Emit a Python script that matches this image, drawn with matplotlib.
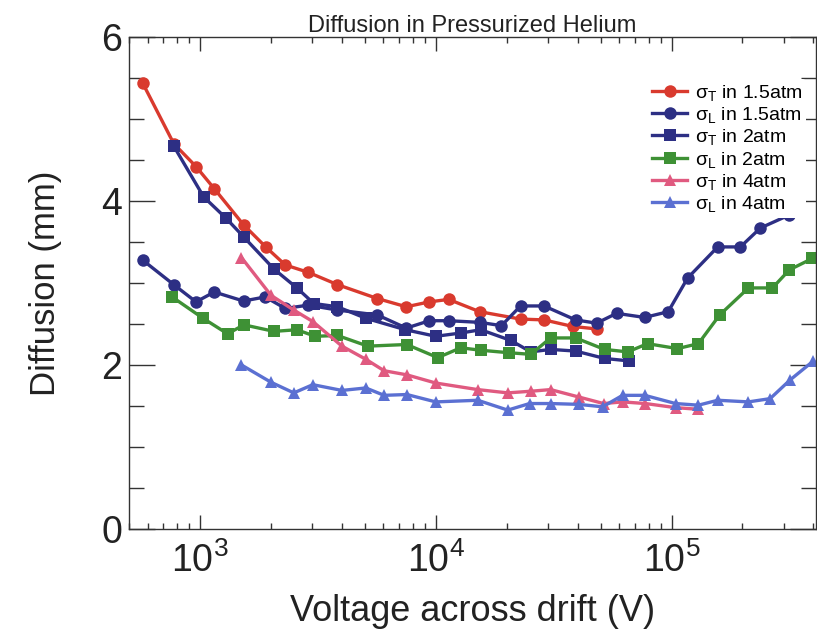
import math
import matplotlib
matplotlib.use("Agg")
import matplotlib.pyplot as plt
from matplotlib.ticker import LogLocator, FuncFormatter, MultipleLocator, NullFormatter

# sigma_T at 1.5 atm
v_t15 = [571, 774, 962, 1150, 1530, 1900, 2300, 2880, 3830, 5660, 7500, 9400,
         11350, 15350, 22900, 28800, 38100, 48100]
d_t15 = [5.44, 4.70, 4.42, 4.15, 3.71, 3.44, 3.22, 3.13, 2.98, 2.81, 2.71, 2.77,
         2.80, 2.65, 2.56, 2.55, 2.47, 2.44]

# sigma_L at 1.5 atm
v_l15 = [571, 774, 962, 1150, 1530, 1890, 2300, 2880, 3830, 5660, 7500, 9400,
         11350, 15350, 19000, 22900, 28800, 39200, 48100, 58500, 76900, 96800,
         117000, 157000, 196000, 238000, 316000]
d_l15 = [3.28, 2.98, 2.77, 2.89, 2.78, 2.83, 2.69, 2.73, 2.67, 2.61, 2.45, 2.54,
         2.54, 2.52, 2.48, 2.72, 2.72, 2.55, 2.51, 2.63, 2.58, 2.65,
         3.06, 3.44, 3.44, 3.67, 3.83]

# sigma_T at 2 atm
v_t2 = [774, 1037, 1290, 1535, 2060, 2576, 3040, 3830, 5050, 7440, 10000, 12770,
        15520, 20800, 25300, 30700, 39200, 52000, 65900]
d_t2 = [4.67, 4.05, 3.79, 3.56, 3.17, 2.94, 2.75, 2.71, 2.57, 2.43, 2.35, 2.39,
        2.43, 2.30, 2.16, 2.19, 2.17, 2.08, 2.05]

# sigma_L at 2 atm
v_l2 = [762, 1030, 1310, 1535, 2060, 2576, 3080, 3830, 5150, 7530, 10200, 12770,
        15520, 20370, 25300, 30700, 39200, 52000, 65200, 79100, 106000, 130000,
        160000, 212000, 268000, 316000, 396000]
d_l2 = [2.83, 2.57, 2.38, 2.49, 2.41, 2.43, 2.35, 2.36, 2.23, 2.25, 2.09, 2.21,
        2.18, 2.15, 2.13, 2.33, 2.33, 2.19, 2.16, 2.26, 2.20, 2.26,
        2.61, 2.94, 2.94, 3.16, 3.30]

# sigma_T at 4 atm
v_t4 = [1500, 2000, 2500, 3010, 4000, 5050, 6040, 7540, 10000, 15070, 20200,
        25300, 30700, 40400, 51500, 62000, 77500, 104000, 130000]
d_t4 = [3.31, 2.85, 2.67, 2.53, 2.23, 2.07, 1.93, 1.88, 1.78, 1.70, 1.66,
        1.68, 1.70, 1.61, 1.53, 1.55, 1.53, 1.48, 1.46]

# sigma_L at 4 atm
v_l4 = [1500, 2000, 2500, 3010, 4000, 5050, 6040, 7540, 10000, 15070, 20200,
        25000, 30700, 40400, 51000, 62000, 77000, 104000, 130000, 157000,
        212000, 262000, 319000, 400000]
d_l4 = [2.00, 1.79, 1.66, 1.76, 1.69, 1.72, 1.63, 1.64, 1.55, 1.57, 1.45,
        1.53, 1.53, 1.52, 1.49, 1.63, 1.63, 1.53, 1.51, 1.57,
        1.55, 1.59, 1.82, 2.05]

plt.rcParams["font.family"] = ["Liberation Sans", "DejaVu Sans"]

fig = plt.figure(figsize=(8.17, 6.32), dpi=100)
ax = fig.add_axes([129 / 817, 103 / 632, 687 / 817, 492 / 632])

series = [
    (v_t15, d_t15, "#D93A2E", "o", r"$\mathregular{\sigma_T}$ in 1.5atm"),
    (v_l15, d_l15, "#2D2F84", "o", r"$\mathregular{\sigma_L}$ in 1.5atm"),
    (v_t2, d_t2, "#2D2F84", "s", r"$\mathregular{\sigma_T}$ in 2atm"),
    (v_l2, d_l2, "#3E9135", "s", r"$\mathregular{\sigma_L}$ in 2atm"),
    (v_t4, d_t4, "#E05A80", "^", r"$\mathregular{\sigma_T}$ in 4atm"),
    (v_l4, d_l4, "#5B70D2", "^", r"$\mathregular{\sigma_L}$ in 4atm"),
]

for v, d, c, m, lab in series:
    ax.plot(v, d, color=c, marker=m, markersize=9, linewidth=2.4,
            markeredgewidth=0, label=lab)

ax.set_xscale("log")
ax.set_xlim(500, 4.1e5)
ax.set_ylim(0, 6)

ax.xaxis.set_major_locator(LogLocator(base=10))
ax.xaxis.set_minor_locator(LogLocator(base=10, subs=range(2, 10)))
ax.xaxis.set_major_formatter(FuncFormatter(lambda x, p: r"$\mathregular{10^{%d}}$" % round(math.log10(x))))
ax.xaxis.set_minor_formatter(NullFormatter())
ax.yaxis.set_major_locator(MultipleLocator(2))
ax.yaxis.set_minor_locator(MultipleLocator(0.5))

for s in ax.spines.values():
    s.set_linewidth(1.0)
    s.set_color("#333333")

ax.tick_params(axis="both", which="both", direction="in", top=True, right=True,
               color="#333333", width=1.0, labelcolor="#222222", labelsize=27)
ax.tick_params(axis="x", which="major", length=10, pad=10)
ax.tick_params(axis="x", which="minor", length=4.5)
ax.tick_params(axis="y", which="major", length=19, pad=5)
ax.tick_params(axis="y", which="minor", length=11)

ax.set_title("Diffusion in Pressurized Helium", fontsize=17, color="#222222", pad=1)
ax.set_xlabel("Voltage across drift (V)", fontsize=26, color="#222222", labelpad=10)
ax.set_ylabel("Diffusion (mm)", fontsize=25, color="#222222", labelpad=28)

leg = ax.legend(loc="upper right", bbox_to_anchor=(1.0, 0.935), fontsize=14,
                frameon=True, framealpha=1, facecolor="white", edgecolor="none",
                handlelength=1.8, handletextpad=0.4, labelspacing=0.12,
                borderpad=0.2)

fig.savefig("out.png", dpi=100)
